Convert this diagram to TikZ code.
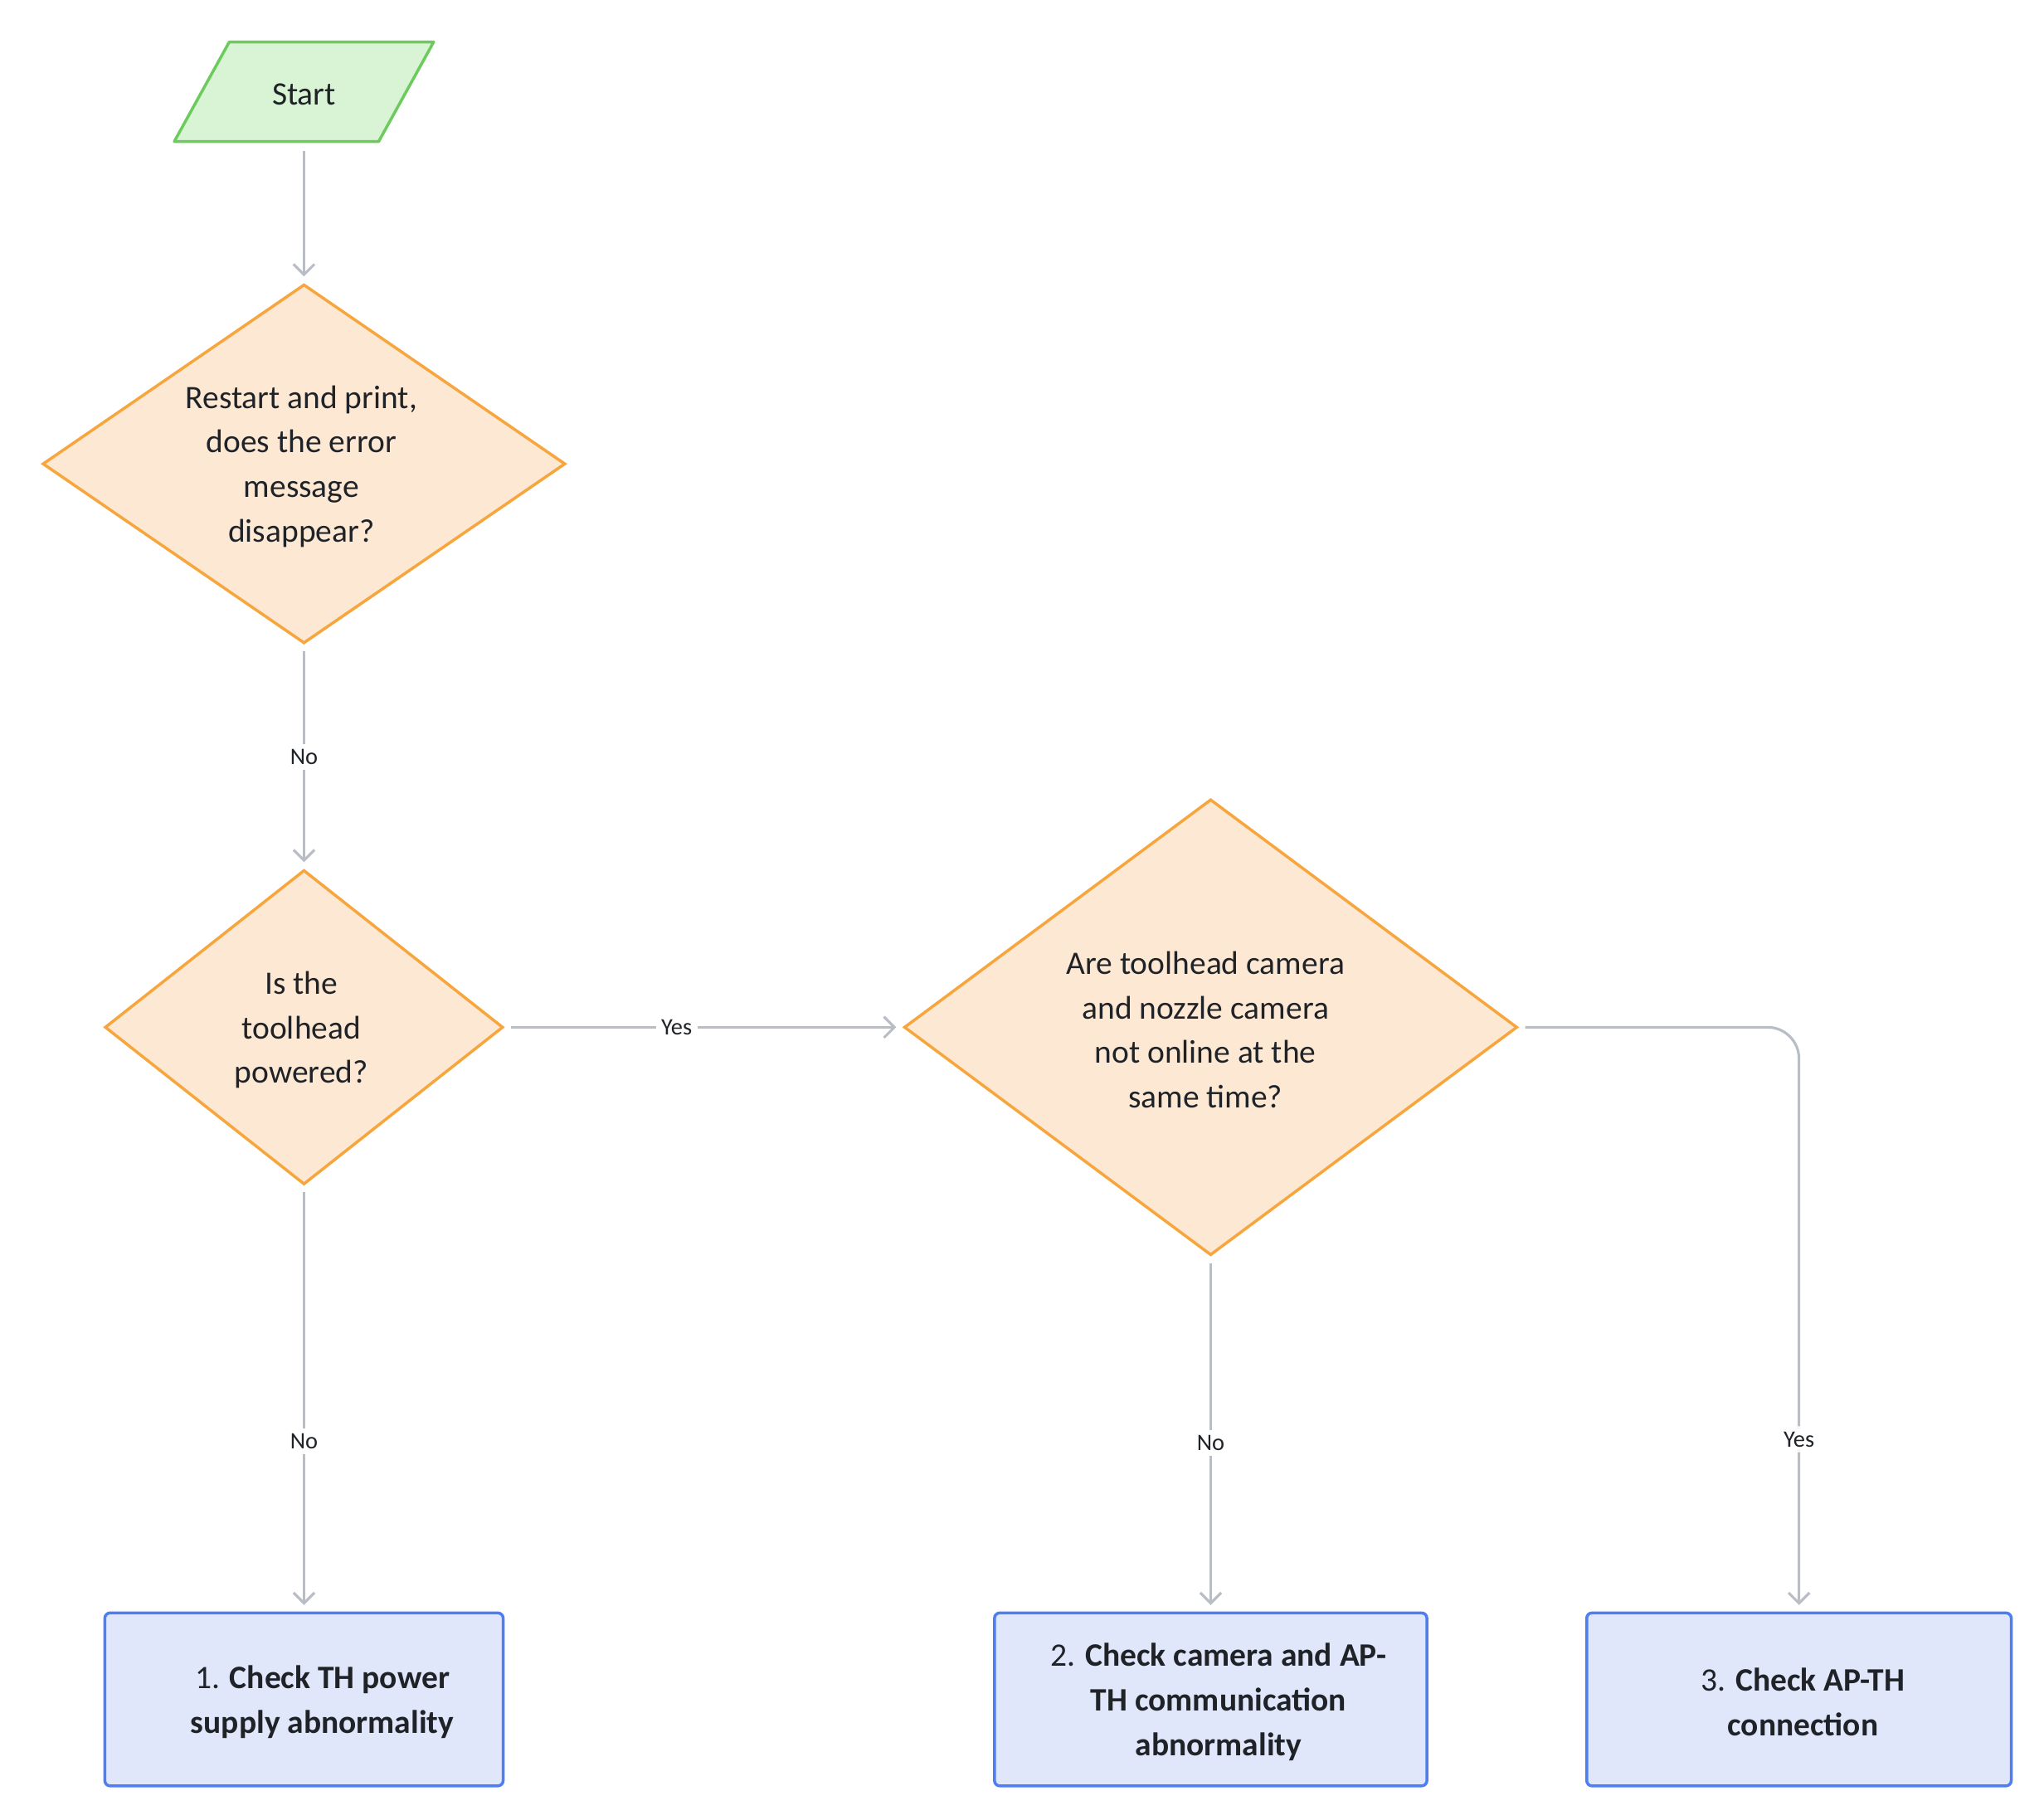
\documentclass[tikz,border=0pt]{standalone}
\usepackage{fontspec}
\setmainfont{Carlito}
\usetikzlibrary{shapes.geometric,arrows.meta}
\definecolor{gbd}{HTML}{6CCB5C}\definecolor{gfl}{HTML}{D9F3D5}
\definecolor{obd}{HTML}{F7A53D}\definecolor{ofl}{HTML}{FDE8D3}
\definecolor{bbd}{HTML}{4F7EF0}\definecolor{bfl}{HTML}{E0E7FB}
\definecolor{edge}{HTML}{B9BDC5}\definecolor{txt}{HTML}{1F2328}
\begin{document}
\begin{tikzpicture}[x=0.5pt,y=-0.5pt,
  dia/.style={diamond,draw=obd,fill=ofl,line width=1.1pt,inner sep=0pt},
  box/.style={rectangle,rounded corners=2pt,draw=bbd,fill=bfl,line width=1.1pt,minimum width=152pt,minimum height=66pt},
  t/.style={text=txt,align=center,font=\fontsize{12.5}{17}\selectfont},
  bt/.style={text=txt,align=center,font=\fontsize{12.5}{17}\selectfont},
  arr/.style={draw=edge,line width=1pt,-{Straight Barb[length=4pt,width=8pt]}},
  lab/.style={fill=white,text=txt,font=\fontsize{9}{11}\selectfont,inner sep=2pt}]
\useasboundingbox (0,0) rectangle (1560,1389);
% start
\coordinate (p1) at (133,108); \coordinate (p2) at (175,32);
\coordinate (p3) at (331,32); \coordinate (p4) at (289,108);
\draw[draw=gbd,fill=gfl,line width=1.1pt,line join=round] (p1) -- (p2) -- (p3) -- (p4) -- cycle;
\node[t] (s) at (232,72) {Start};
% diamonds
\node[dia,minimum width=199.5pt,minimum height=137pt,shape aspect=1.456] (d1) at (232,354) {};
\node[t] at (230,356) {Restart and print,\\does the error\\message\\disappear?};
\node[dia,minimum width=152pt,minimum height=120pt,shape aspect=1.267] (d2) at (232,784) {};
\node[t] at (230,786) {Is the\\toolhead\\powered?};
\node[dia,minimum width=234pt,minimum height=174pt,shape aspect=1.345] (d3) at (924,784) {};
\node[t] at (920,786) {Are toolhead camera\\and nozzle camera\\not online at the\\same time?};
% boxes
\node[box] (b1) at (232,1297) {};
\node[bt] at (246,1299) {1. \textbf{Check TH power}\\\textbf{supply abnormality}};
\node[box,minimum width=165pt] (b2) at (924,1297) {};
\node[bt] at (930,1299) {2. \textbf{Check camera and AP-}\\\textbf{TH communication}\\\textbf{abnormality}};
\node[box,minimum width=162pt] (b3) at (1373,1297) {};
\node[bt] at (1376,1299) {3. \textbf{Check AP-TH}\\\textbf{connection}};
% coordinates
\coordinate (s0) at (232,115); \coordinate (d1t) at (232,211);
\coordinate (d1b) at (232,497); \coordinate (d2t) at (232,658);
\coordinate (d2r) at (390,784); \coordinate (d3l) at (684,784);
\coordinate (d2b) at (232,910); \coordinate (b1t) at (232,1225);
\coordinate (d3b) at (924,964); \coordinate (b2t) at (924,1225);
\coordinate (d3r) at (1164,784); \coordinate (corner) at (1373,784); \coordinate (b3t) at (1373,1225);
\draw[arr] (s0) -- (d1t);
\draw[arr] (d1b) -- node[lab]{No} (d2t);
\draw[arr] (d2r) -- node[lab,pos=0.43]{Yes} (d3l);
\draw[arr] (d2b) -- node[lab,pos=0.604]{No} (b1t);
\draw[arr] (d3b) -- node[lab,pos=0.526]{No} (b2t);
\draw[arr,rounded corners=12pt] (d3r) -- (corner) -- node[lab,pos=0.713]{Yes} (b3t);
\end{tikzpicture}
\end{document}
